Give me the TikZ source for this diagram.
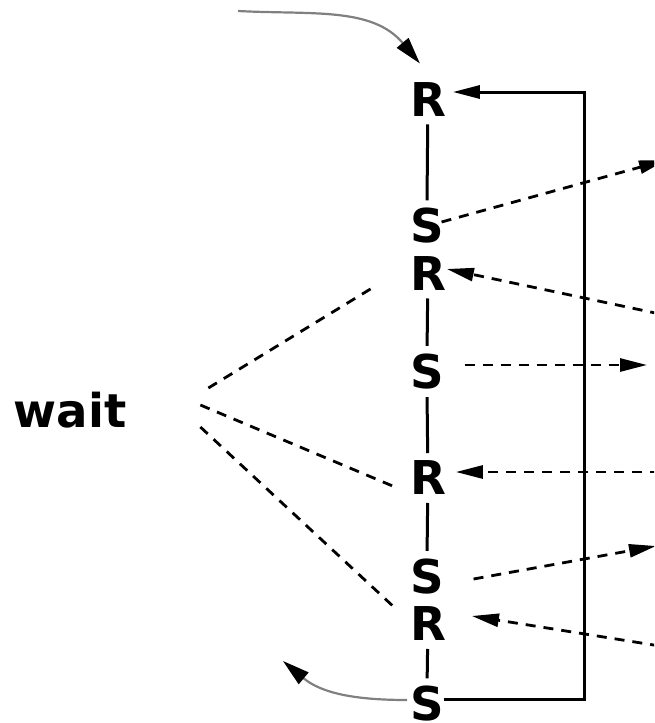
\documentclass[tikz,border=0pt]{standalone}
\usepackage{fontspec}
\setmainfont{DejaVu Sans}
\usepackage{tikz}
\usetikzlibrary{arrows.meta}
\usetikzlibrary{calc}

\tikzset{
  sig/.style = {anchor=west, inner sep=0pt, outer xsep=0pt, outer ysep=8pt,
    font=\fontsize{46.6}{56}\selectfont\bfseries},
  wire/.style = {line width=3pt},
  msg/.style = {line width=2.8pt, dash pattern=on 10pt off 8pt},
  arr/.style = {-{Triangle[length=27pt,width=13pt]}},
  flow/.style = {line width=2.2pt, color=gray, -{Triangle[length=27pt,width=15pt,color=black]}}
}

\begin{document}
\begin{tikzpicture}
  [x = 1pt, y = 1pt]
  \useasboundingbox (0,0) rectangle (654,-723);
  \clip (0,0) rectangle (654,-723);
  \foreach \n/\t/\y in {r1/R/99.5, s1/S/226, r2/R/273.5, s2/S/371.5, r3/R/478, s3/S/576.5, r4/R/624, s4/S/704}{
    \node[sig] (\n) at (410,-\y) {\t};
  }
  \node[sig, anchor=center] (wait) at (70,-410) {wait};
  \foreach \a/\b in {r1/s1, r2/s2, s2/r3, r3/s3, r4/s4}{
    \draw[wire] (\a) -- (\b);
  }
  \coordinate (loop) at (584,-92);
  \draw[wire, arr] ($(s4.east)+(0,5)$) -| (loop) -- ($(r1.east)+(7,7.5)$);
  \coordinate (out1) at (666,-160);
  \coordinate (in2) at (660,-314);
  \coordinate (out2) at (647,-365);
  \coordinate (in3) at (660,-472);
  \coordinate (out3) at (656,-546);
  \coordinate (in4) at (660,-646);
  \draw[msg, arr] ($(s1.east)+(-2,4)$) -- (out1);
  \draw[msg, arr] (in2) -- ($(r2.east)+(1,4.5)$);
  \draw[msg, arr] ($(s2.east)+(21,6.5)$) -- (out2);
  \draw[msg, arr] (in3) -- ($(r3.east)+(10,6)$);
  \draw[msg, arr] ($(s3.east)+(30,-2.5)$) -- (out3);
  \draw[msg, arr] (in4) -- ($(r4.east)+(26,8)$);
  \draw[msg] ($(wait.east)+(82,22)$) -- ($(r2.west)+(-33,-11.5)$);
  \draw[msg] ($(wait.east)+(74,5)$) -- ($(r3.west)+(-15,-9)$);
  \draw[msg] ($(wait.east)+(74,-17)$) -- ($(r4.west)+(-15,16)$);
  \coordinate (entry) at (238,-11);
  \coordinate (exit) at (283,-661);
  \draw[flow] (entry) to[out=-3, in=130] ($(r1.north)+(-8,11)$);
  \draw[flow] ($(s4.west)+(-3,4)$) to[out=180, in=-40] (exit);
\end{tikzpicture}
\end{document}
